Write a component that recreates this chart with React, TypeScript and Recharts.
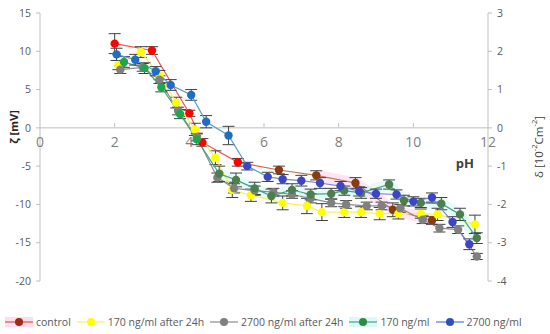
import { ErrorBar, Legend, Line, LineChart, ReferenceLine, XAxis, YAxis } from "recharts";

const FONT = "'Open Sans', 'Noto Sans', sans-serif";

// pH values (x) and zeta potential (left axis) per series, plus error bar half-widths
const controlPh = [2.0, 3.0, 4.0, 4.35, 5.3, 6.4, 7.4, 8.45, 9.45, 10.5];
const controlZeta = [11.0, 10.1, 1.9, -1.9, -4.5, -5.5, -6.2, -7.2, -10.7, -12.1];
const controlErr = [1.3, 0.5, 0.4, 0.5, 0.5, 0.5, 0.6, 0.7, 0.9, 0.5];

const y170dPh = [2.1, 2.7, 3.2, 3.65, 4.15, 4.7, 5.15, 5.65, 6.5, 7.15, 7.55, 8.15, 8.6, 9.1, 9.6, 10.2, 10.65, 11.65];
const y170dZeta = [8.2, 9.9, 6.9, 3.3, -0.2, -3.9, -8.1, -8.8, -9.8, -10.2, -11.0, -11.0, -11.0, -11.2, -11.2, -11.2, -11.3, -12.6];
const y170dErr = [0.6, 0.7, 0.6, 0.7, 0.8, 0.9, 1.0, 0.8, 0.9, 1.0, 1.1, 0.7, 0.7, 0.8, 0.7, 0.6, 0.8, 1.2];

const g2700dPh = [2.15, 2.75, 3.2, 3.7, 4.2, 4.75, 5.2, 5.75, 6.25, 6.75, 7.25, 7.8, 8.2, 8.75, 9.15, 9.65, 10.25, 10.7, 11.2, 11.7];
const g2700dZeta = [7.6, 7.9, 6.3, 2.2, -1.2, -6.5, -7.9, -8.2, -8.4, -8.7, -9.2, -9.8, -10.0, -10.2, -10.2, -10.5, -12.0, -13.1, -13.3, -16.8];
const g2700dErr = [0.5, 0.5, 0.5, 0.5, 0.5, 0.6, 0.6, 0.6, 0.5, 0.5, 0.6, 0.5, 0.5, 0.5, 0.5, 0.5, 0.5, 0.5, 0.5, 0.4];

const g170Ph = [2.25, 2.8, 3.25, 3.75, 4.2, 4.8, 5.25, 5.75, 6.2, 6.75, 7.25, 7.8, 8.15, 8.6, 9.35, 9.75, 10.2, 10.75, 11.25, 11.7];
const g170Zeta = [8.6, 7.8, 5.3, 1.8, -1.5, -6.0, -6.8, -7.9, -8.9, -8.1, -8.7, -8.6, -8.2, -8.5, -7.4, -9.5, -9.8, -9.9, -11.3, -14.4];
const g170Err = [0.7, 0.7, 0.6, 0.6, 0.7, 1.0, 0.9, 0.8, 0.9, 0.8, 0.7, 0.7, 0.6, 0.7, 0.6, 0.7, 0.6, 0.8, 0.8, 0.7];

const b2700Ph = [2.05, 2.55, 3.1, 3.5, 4.05, 4.45, 5.05, 5.55, 6.1, 6.5, 7.0, 7.5, 8.05, 8.55, 9.0, 9.55, 10.0, 10.5, 11.05, 11.5];
const b2700Zeta = [9.6, 8.9, 7.4, 5.6, 4.3, 0.8, -1.0, -5.0, -6.4, -6.7, -6.9, -7.2, -7.6, -8.3, -8.6, -8.7, -9.6, -9.1, -12.3, -15.2];
const b2700Err = [0.8, 0.7, 0.6, 0.7, 0.7, 0.8, 1.2, 0.5, 0.6, 0.6, 0.7, 0.7, 0.6, 0.6, 0.6, 0.6, 0.6, 0.6, 0.7, 0.7];

const zetaTicks = [15, 10, 5, 0, -5, -10, -15, -20];
const deltaTicks = [3, 2, 1, 0, -1, -2, -3, -4];
const phTicks = [0, 2, 4, 6, 8, 10, 12];

const rows = (ph: number[], z: number[], e: number[]) => ph.map((p, i) => ({ ph: p, z: z[i], e: e[i] }));

type Series = {
  name: string;
  data: { ph: number; z: number; e: number }[];
  stroke: string;
  legendStroke: string;
  dot: (i: number) => string;
  legendDot: string;
  glow?: { color: string; from: number };
};

const series: Series[] = [
  {
    name: "control",
    data: rows(controlPh, controlZeta, controlErr),
    stroke: "url(#ctrlLine)",
    legendStroke: "#d05a3a",
    dot: (i) => (i < 5 ? "#ff0000" : "#8a3a10"),
    legendDot: "#a02a12",
    glow: { color: "#ffc4ea", from: 6 },
  },
  {
    name: "170 ng/ml after 24h",
    data: rows(y170dPh, y170dZeta, y170dErr),
    stroke: "#f6f25a",
    legendStroke: "#f6f25a",
    dot: () => "#ffff00",
    legendDot: "#ffff00",
  },
  {
    name: "2700 ng/ml after 24h",
    data: rows(g2700dPh, g2700dZeta, g2700dErr),
    stroke: "#8c8c8c",
    legendStroke: "#8c8c8c",
    dot: () => "#808080",
    legendDot: "#808080",
  },
  {
    name: "170 ng/ml",
    data: rows(g170Ph, g170Zeta, g170Err),
    stroke: "#3ea87a",
    legendStroke: "#3ea87a",
    dot: (i) => (i < 5 ? "#1fa64a" : "#4c7f4c"),
    legendDot: "#2f8a46",
    glow: { color: "#c6f4f2", from: 5 },
  },
  {
    name: "2700 ng/ml",
    data: rows(b2700Ph, b2700Zeta, b2700Err),
    stroke: "url(#blueLine)",
    legendStroke: "#4a7fd0",
    dot: (i) => (i < 7 ? "#1f6ec6" : "#3a46c6"),
    legendDot: "#2c52c0",
  },
];

const TOP = 13;
const PLOT_H = 266;
const ZERO_Y = TOP + (PLOT_H * 15) / 35;

const PhTick = ({ x, payload }: any) => (
  <g>
    {payload.value > 0 && payload.value < 12 && (
      <line x1={x} x2={x} y1={ZERO_Y - 4} y2={ZERO_Y} stroke="#bfbfbf" />
    )}
    <text x={x} y={ZERO_Y + 20} textAnchor="middle" fill="#7f7f7f" fontSize={14} fontFamily={FONT}>
      {payload.value}
    </text>
  </g>
);

const LegendRow = () => (
  <div
    style={{
      display: "flex",
      alignItems: "center",
      fontFamily: FONT,
      fontSize: 10.5,
      color: "#595959",
      paddingLeft: 5,
      whiteSpace: "nowrap",
    }}
  >
    {series.map((s) => (
      <div key={s.name} style={{ display: "flex", alignItems: "center", marginRight: 6 }}>
        <svg width={28} height={12}>
          {s.glow && <rect x={0} y={1} width={28} height={10} fill={s.glow.color} fillOpacity={0.6} />}
          <line x1={0} x2={28} y1={6} y2={6} stroke={s.legendStroke} strokeWidth={1.2} />
          <circle cx={14} cy={6} r={4} fill={s.legendDot} />
        </svg>
        <span style={{ marginLeft: 3 }}>{s.name}</span>
      </div>
    ))}
  </div>
);

export default function App() {
  return (
    <div style={{ position: "absolute", left: 0, top: 0, width: 550, height: 334, background: "#fff" }}>
      <LineChart width={550} height={334} margin={{ top: TOP, right: 0, bottom: 19, left: 0 }} style={{ fontFamily: FONT }}>
        <defs>
          <linearGradient id="ctrlLine" x1="0" y1="0" x2="1" y2="0">
            <stop offset="0" stopColor="#ff4c4c" />
            <stop offset="0.38" stopColor="#ff4c4c" />
            <stop offset="0.55" stopColor="#b8784c" />
            <stop offset="1" stopColor="#b8784c" />
          </linearGradient>
          <linearGradient id="blueLine" x1="0" y1="0" x2="1" y2="0">
            <stop offset="0" stopColor="#4f9ed0" />
            <stop offset="0.4" stopColor="#4f9ed0" />
            <stop offset="0.55" stopColor="#7a80de" />
            <stop offset="1" stopColor="#7a80de" />
          </linearGradient>
        </defs>
        <XAxis
          type="number"
          dataKey="ph"
          domain={[0, 12]}
          ticks={phTicks}
          interval={0}
          axisLine={false}
          tickLine={false}
          height={20}
          tick={<PhTick />}
          allowDuplicatedCategory={false}
        />
        <YAxis
          yAxisId="z"
          width={40}
          domain={[-20, 15]}
          ticks={zetaTicks}
          interval={0}
          allowDataOverflow
          axisLine={{ stroke: "#bfbfbf" }}
          tickLine={{ stroke: "#bfbfbf" }}
          tickSize={4}
          tickMargin={5}
          tick={{ fill: "#595959", fontSize: 10.5, fontFamily: FONT }}
          label={{
            content: ({ viewBox }: any) => (
              <text
                x={viewBox.x + 13}
                y={ZERO_Y}
                transform={`rotate(-90, ${viewBox.x + 13}, ${ZERO_Y})`}
                textAnchor="middle"
                dominantBaseline="central"
                fill="#262626"
                fontSize={11}
                fontWeight="bold"
                fontFamily={FONT}
              >
                ζ [mV]
              </text>
            ),
          }}
        />
        <YAxis
          yAxisId="d"
          orientation="right"
          width={62}
          domain={[-4, 3]}
          ticks={deltaTicks}
          interval={0}
          allowDataOverflow
          axisLine={{ stroke: "#bfbfbf" }}
          tickLine={{ stroke: "#bfbfbf" }}
          tickSize={4}
          tickMargin={5}
          tick={{ fill: "#595959", fontSize: 10.5, fontFamily: FONT }}
          label={{
            content: ({ viewBox }: any) => {
              const cx = viewBox.x + viewBox.width - 12;
              const cy = viewBox.y + viewBox.height / 2;
              return (
                <text
                  x={cx}
                  y={cy}
                  transform={`rotate(-90, ${cx}, ${cy})`}
                  textAnchor="middle"
                  dominantBaseline="central"
                  fill="#404040"
                  fontSize={11.5}
                  fontFamily={FONT}
                >
                  δ [10
                  <tspan dy={-4} fontSize={7.5}>-2</tspan>
                  <tspan dy={4}>Cm</tspan>
                  <tspan dy={-4} fontSize={7.5}>-2</tspan>
                  <tspan dy={4}>]</tspan>
                </text>
              );
            },
          }}
        />
        <ReferenceLine y={0} yAxisId="z" stroke="#bfbfbf" />
        <ReferenceLine
          y={0}
          yAxisId="z"
          stroke="none"
          label={{ value: "pH", position: "insideBottomRight", offset: 0, dy: 40, dx: -14, fill: "#404040", fontSize: 13, fontWeight: "bold", fontFamily: FONT }}
        />
        {series
          .filter((s) => s.glow)
          .map((s) => (
            <Line
              key={`glow-${s.name}`}
              yAxisId="z"
              data={s.data.slice(s.glow!.from)}
              dataKey="z"
              stroke={s.glow!.color}
              strokeOpacity={0.45}
              strokeWidth={11}
              dot={false}
              activeDot={false}
              legendType="none"
              isAnimationActive={false}
            />
          ))}
        {series.map((s) => (
          <Line
            key={s.name}
            name={s.name}
            yAxisId="z"
            data={s.data}
            dataKey="z"
            type="linear"
            stroke={s.stroke}
            strokeWidth={1.2}
            dot={(p: any) => <circle key={`${s.name}-${p.index}`} cx={p.cx} cy={p.cy} r={4.2} fill={s.dot(p.index)} />}
            activeDot={false}
            isAnimationActive={false}
          >
            <ErrorBar dataKey="e" width={6} strokeWidth={1} stroke="#404040" direction="y" />
          </Line>
        ))}
        <Legend verticalAlign="bottom" content={() => <LegendRow />} wrapperStyle={{ left: 0, bottom: 5, width: 550 }} />
      </LineChart>
    </div>
  );
}
